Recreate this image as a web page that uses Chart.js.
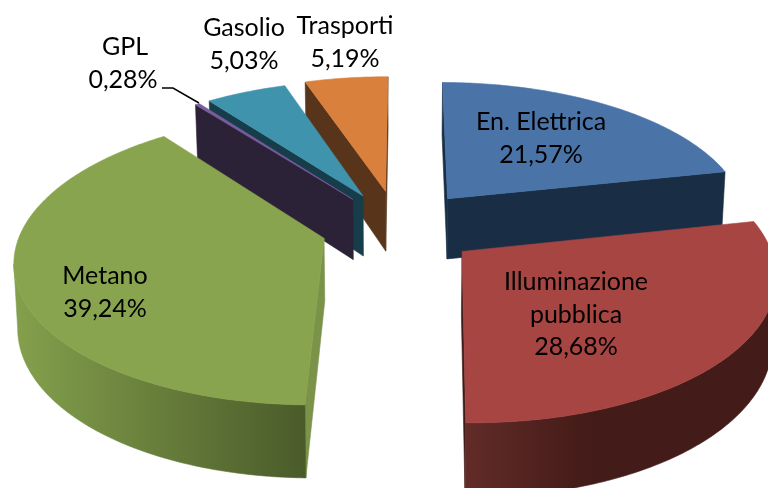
<!DOCTYPE html>
<html>
<head>
<meta charset="utf-8">
<style>
    html, body { margin: 0; padding: 0; background: #fff; }
    canvas { display: block; }
</style>
<script src="https://cdn.jsdelivr.net/npm/chart.js@4/dist/chart.umd.min.js"></script>
</head>
<body>
<canvas id="pie" width="768" height="488"></canvas>
<script>
const categories = ['En. Elettrica', 'Illuminazione pubblica', 'Metano', 'GPL', 'Gasolio', 'Trasporti'];
const shares = [21.57, 28.68, 39.24, 0.28, 5.03, 5.19];
const shareLabels = ['21,57%', '28,68%', '39,24%', '0,28%', '5,03%', '5,19%'];

const labelLines = [
    ['En. Elettrica'],
    ['Illuminazione', 'pubblica'],
    ['Metano'],
    ['GPL'],
    ['Gasolio'],
    ['Trasporti']
];
// centre of the first text line of each label
const labelSpots = [[541, 122], [576, 282], [105, 276], [125, 47], [244, 28], [345, 26]];

const explode = [81, 81, 77, 77, 78, 81];
const topColors = ['#4a74a8', '#a74543', '#89a44e', '#7a5c9c', '#3f93ad', '#d9803d'];
const wallColors = ['#192d45', '#401b19', '#7a9349', '#2c2238', '#173c4a', '#58341a'];
const rimStops = [
    ['#192d45', '#192d45'],
    ['#622b28', '#431b18'],
    ['#84a04c', '#4a5b2a'],
    ['#2c2238', '#2c2238'],
    ['#173c4a', '#173c4a'],
    ['#58341a', '#58341a']
];
const rimSpans = [[440, 730], [465, 590], [15, 305], [190, 360], [210, 370], [300, 390]];
const paintOrder = [0, 5, 4, 3, 2, 1];

// fake 3D view of the flat pie
const view = { cx: 398, cy: 227, squash: 0.463, persp: 0.14, depth: 62, taper: 0.99 };

function project(el, offX, offZ, angle) {
    const r = el.outerRadius;
    const X = offX + Math.cos(angle) * r;
    const Z = offZ + Math.sin(angle) * r;
    const s = 1 / (1 - view.persp * Z / r);
    return { x: view.cx + X * s, y: view.cy + Z * view.squash * s, s: s };
}

function lower(p) {
    return { x: view.cx + (p.x - view.cx) * view.taper, y: p.y + view.depth * p.s };
}

function fillPoly(ctx, pts, fill) {
    ctx.beginPath();
    pts.forEach(function (p, i) {
        if (i === 0) ctx.moveTo(p.x, p.y); else ctx.lineTo(p.x, p.y);
    });
    ctx.closePath();
    ctx.fillStyle = fill;
    ctx.fill();
    ctx.strokeStyle = fill;
    ctx.lineWidth = 0.6;
    ctx.stroke();
}

function drawSlice(ctx, el, i) {
    const mid = (el.startAngle + el.endAngle) / 2;
    const offset = el.options.offset;
    const offX = Math.cos(mid) * offset;
    const offZ = Math.sin(mid) * offset;
    const s0 = 1 / (1 - view.persp * offZ / el.outerRadius);
    const apex = { x: view.cx + offX * s0, y: view.cy + offZ * view.squash * s0, s: s0 };

    const steps = Math.max(2, Math.ceil((el.endAngle - el.startAngle) / 0.015));
    const rim = [];
    for (let k = 0; k <= steps; k++) {
        rim.push(project(el, offX, offZ, el.startAngle + (el.endAngle - el.startAngle) * k / steps));
    }

    // edge walls, only those that face the viewer
    if (rim[0].x < apex.x) {
        fillPoly(ctx, [apex, rim[0], lower(rim[0]), lower(apex)], wallColors[i]);
    }
    if (apex.x < rim[steps].x) {
        fillPoly(ctx, [rim[steps], apex, lower(apex), lower(rim[steps])], wallColors[i]);
    }

    // outer wall, one polygon for the run of rim that faces the viewer
    const front = [];
    for (let k = 0; k < steps; k++) {
        if (rim[k + 1].x < rim[k].x) {
            if (front.length === 0) front.push(rim[k]);
            front.push(rim[k + 1]);
        }
    }
    if (front.length > 1) {
        const grad = ctx.createLinearGradient(rimSpans[i][0], 0, rimSpans[i][1], 0);
        grad.addColorStop(0, rimStops[i][0]);
        grad.addColorStop(1, rimStops[i][1]);
        fillPoly(ctx, front.concat(front.map(lower).reverse()), grad);
    }

    // top face
    fillPoly(ctx, [apex].concat(rim), topColors[i]);
}

const tiltedPie = {
    id: 'tiltedPie',
    beforeDatasetDraw: function (chart) {
        const ctx = chart.ctx;
        const arcs = chart.getDatasetMeta(0).data;
        ctx.save();
        paintOrder.forEach(function (i) { drawSlice(ctx, arcs[i], i); });
        ctx.restore();
        return false;
    },
    afterDraw: function (chart) {
        const ctx = chart.ctx;
        ctx.save();
        // GPL leader line
        ctx.beginPath();
        ctx.moveTo(162, 88);
        ctx.lineTo(173, 88);
        ctx.lineTo(199, 103);
        ctx.strokeStyle = '#000';
        ctx.lineWidth = 1.5;
        ctx.stroke();

        ctx.fillStyle = '#000';
        ctx.font = '25px Lato';
        ctx.textAlign = 'center';
        ctx.textBaseline = 'middle';
        labelLines.forEach(function (lines, i) {
            const rows = lines.concat(shareLabels[i]);
            rows.forEach(function (row, r) {
                let x = labelSpots[i][0];
                if (i === 3 && r === 1) x = 123;
                ctx.fillText(row, x, labelSpots[i][1] + r * 32.5);
            });
        });
        ctx.restore();
    }
};

new Chart(document.getElementById('pie'), {
    type: 'pie',
    data: {
        labels: categories,
        datasets: [{
            data: shares,
            backgroundColor: topColors,
            offset: explode,
            radius: 302,
            borderWidth: 0
        }]
    },
    options: {
        responsive: false,
        animation: false,
        rotation: 0.2,
        layout: { padding: 0 },
        plugins: { legend: { display: false }, tooltip: { enabled: false } }
    },
    plugins: [tiltedPie]
});
</script>
</body>
</html>
